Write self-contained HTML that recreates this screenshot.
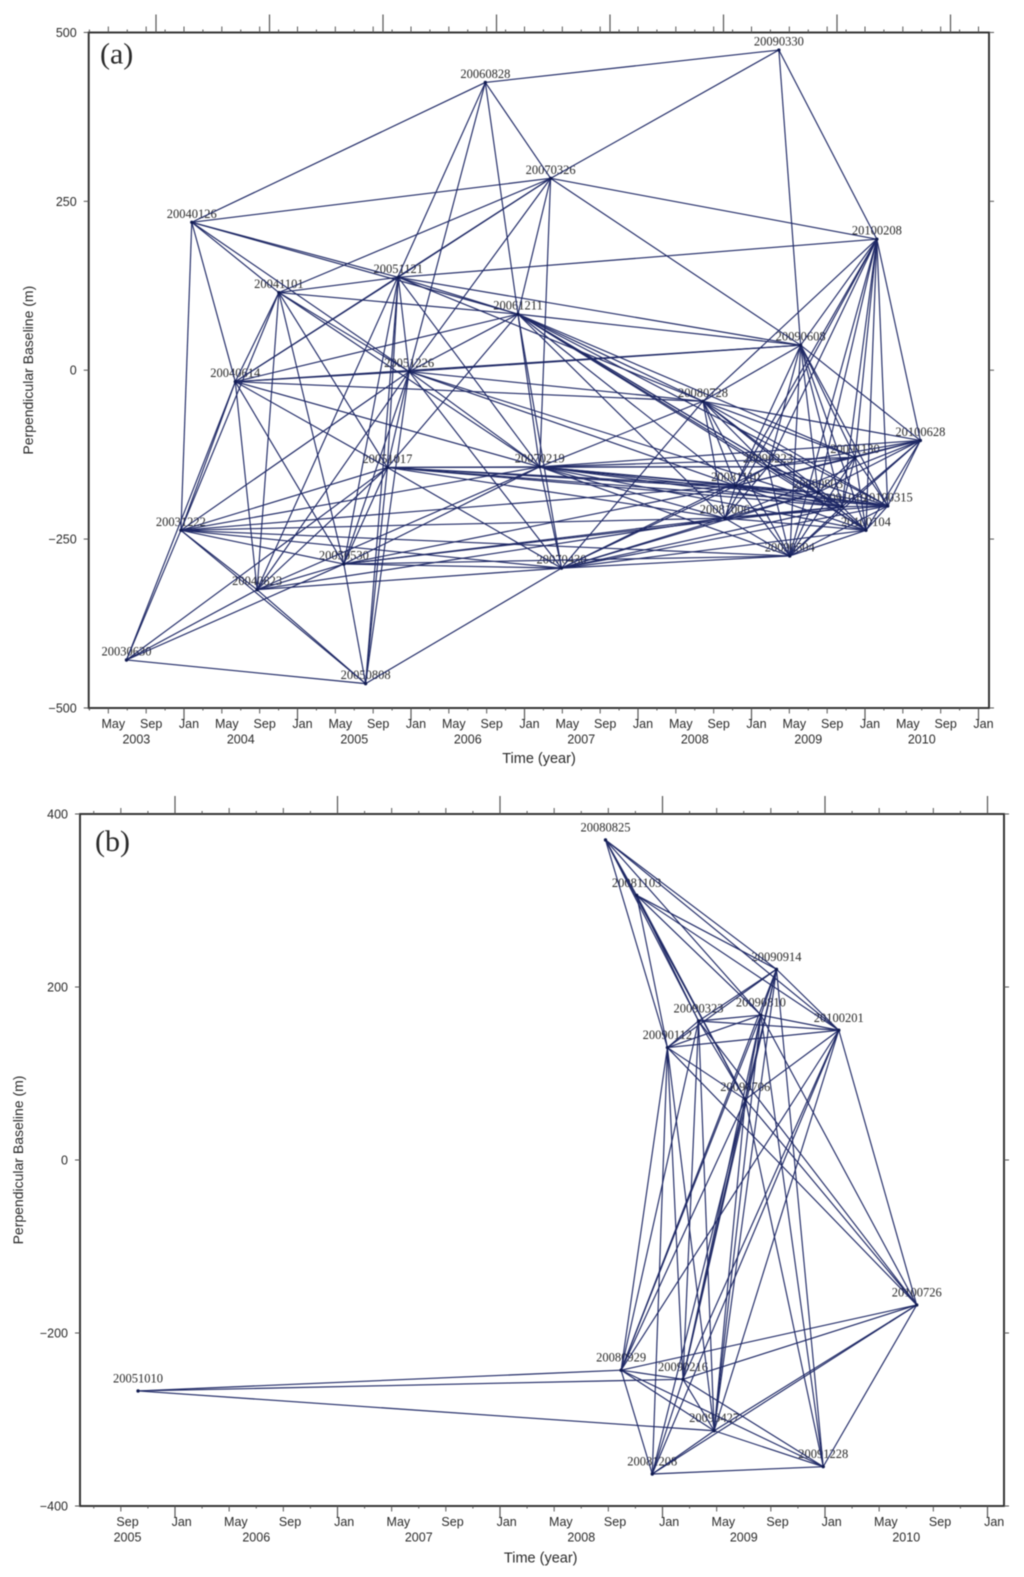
<!DOCTYPE html>
<html>
<head>
<meta charset="utf-8">
<title>Perpendicular baseline networks</title>
<style>
html,body{margin:0;padding:0;background:#fff;width:1024px;height:1577px;overflow:hidden}
svg{display:block;filter:blur(.4px)}
text{fill:#2a2a2a}
.sans{font-family:"Liberation Sans",sans-serif}
.serif{font-family:"Liberation Serif",serif}
</style>
</head>
<body>
<svg id="chart" xmlns="http://www.w3.org/2000/svg" width="1024" height="1577" viewBox="0 0 1024 1577"></svg>
<script>
// ---------- Panel (a) data ----------
const datesA = ["20030630","20031222","20040126","20040614","20040823","20041101","20050530","20050808","20051017","20051121","20051226","20060828","20061211","20070219","20070326","20070430","20080728","20081006","20081110","20090223","20090330","20090504","20090608","20090803","20091019","20091130","20100104","20100208","20100315","20100628"];
const baselinesA = [-429,-237,219,-17,-325,115,-287,-464,-144,137.5,-2,426,83,-143,284,-293,-46,-219,-171,-143,474,-275,37,-181,-202,-129,-237,194,-201,-104];
const edgesA = [
["20030630","20031222 20040614 20040823 20050530 20050808 20051017"],
["20031222","20040126 20040614 20041101 20040823 20050808 20050530 20051017 20051226 20070219 20081110 20081006 20090504 20070430"],
["20040126","20060828 20070326 20040614 20041101 20051226 20051121 20061211"],
["20040614","20041101 20070326 20061211 20051226 20090608 20051017 20050530 20040823 20070219 20080728 20051121"],
["20040823","20041101 20050808 20050530 20051017 20070430 20070219 20081006 20051226 20060828"],
["20041101","20051121 20070326 20061211 20051226 20070219 20050530 20051017"],
["20050530","20051017 20050808 20051226 20051121 20070430 20070219 20081006 20090504 20091019 20081110"],
["20050808","20051017 20051226 20051121 20070430"],
["20051017","20070219 20081110 20091019 20090803 20090223 20081006 20100315 20061211 20051226 20070430 20051121"],
["20051121","20070326 20061211 20090608 20080728 20100208 20051226 20070219"],
["20051226","20060828 20070326 20061211 20090608 20081110 20070219 20080728 20070430 20091019"],
["20060828","20090330 20070326 20061211"],
["20061211","20070326 20070219 20070430 20090608 20080728 20081110 20090803 20091019 20090223 20100315 20091130 20081006 20100104"],
["20070219","20070326 20080728 20081006 20081110 20090223 20090803 20091019 20091130 20100315 20100104 20100628 20090504 20070430"],
["20070326","20090330 20100208 20090608"],
["20070430","20080728 20081006 20081110 20090803 20091019 20100104 20090504 20100315 20090223"],
["20080728","20090223 20081110 20081006 20090504 20090803 20091019 20091130 20100104 20100315 20100628 20090608 20100208"],
["20081006","20090504 20081110 20090803 20091019 20100104 20100315 20090223 20100208 20100628"],
["20081110","20090223 20090504 20090803 20091019 20091130 20100104 20100315 20090608 20100208 20100628"],
["20090223","20090504 20090608 20090803 20091019 20091130 20100104 20100315 20100628 20100208"],
["20090330","20090608 20100208"],
["20090504","20090608 20090803 20091019 20091130 20100104 20100315 20100208 20100628"],
["20090608","20090803 20091019 20091130 20100104 20100315 20100628 20100208"],
["20090803","20091019 20091130 20100104 20100315 20100628 20100208"],
["20091019","20091130 20100104 20100315 20100628 20100208"],
["20091130","20100104 20100315 20100628 20100208"],
["20100104","20100208 20100315 20100628"],
["20100208","20100315 20100628"],
["20100315","20100628"]
];
// ---------- Panel (b) data ----------
const datesB = ["20051010","20080825","20080929","20081103","20081208","20090112","20090216","20090323","20090427","20090706","20090810","20090914","20091228","20100201","20100726"];
const baselinesB = [-267,370,-243,306,-363,130,-253.5,160.7,-313,70,167.6,220.5,-354.5,150,-167.6];
const edgesB = [
["20051010","20080929 20090216 20090427"],
["20080825","20081103 20090914 20100201 20090112 20090323 20090706 20090810"],
["20080929","20090216 20090427 20091228 20081208 20090112 20090323 20090706 20090810 20090914 20100201 20100726"],
["20081103","20090112 20090323 20090706 20090810 20090914 20100201"],
["20081208","20090427 20091228 20100726 20090112 20090706 20100201 20090216"],
["20090112","20090323 20090810 20100201 20090914 20090706 20090216 20090427 20100726"],
["20090216","20090427 20091228 20100726 20090323 20090706 20090810 20090914 20100201"],
["20090323","20100201 20090810 20090914 20090706 20090427 20100726"],
["20090427","20091228 20100726 20090706 20090810 20090914 20100201"],
["20090706","20100201 20100726 20091228 20090810 20090914"],
["20090810","20090914 20100201 20091228 20100726"],
["20090914","20100201 20091228"],
["20091228","20100726"],
["20100201","20100726"]
];
// ---------- Axis labels ----------
const monthLabels = ["Jan","May","Sep"];
const yTicksA = [500,250,0,-250,-500];
const yTicksB = [400,200,0,-200,-400];
const xTitle = "Time (year)";
const yTitle = "Perpendicular Baseline (m)";

const NS = "http://www.w3.org/2000/svg";
const svg = document.getElementById("chart");
const FRAME = "#2e2e2e";
const EDGE = "#1f2966";

function make(tag, attrs, parent, name, text) {
  const el = document.createElementNS(NS, tag);
  for (const k in attrs) el.setAttribute(k, attrs[k]);
  
  
  if (text !== undefined) el.textContent = text;
  parent.appendChild(el);
  return el;
}
function dateToYear(d) {
  const y = +d.slice(0, 4), m = +d.slice(4, 6) - 1, day = +d.slice(6, 8);
  return y + (Date.UTC(y, m, day) - Date.UTC(y, 0, 1)) / 86400000 / 365;
}
function line(g, x1, y1, x2, y2, w, col, name) {
  return make("line", {x1: x1, y1: y1, x2: x2, y2: y2, stroke: col, "stroke-width": w}, g, name);
}

function drawPanel(p) {
  const g = make("g", {}, svg, p.id);
  const X = v => p.jan0 + (v - p.year0) * p.pxYear;
  const Y = v => p.zeroY - v * p.pxUnit;

  // frame
  make("rect", {x: p.left, y: p.top, width: p.right - p.left, height: p.bottom - p.top, fill: "none", stroke: FRAME, "stroke-width": 1.9}, g, p.id + "-frame");

  // x ticks (every two months)
  const ticks = make("g", {}, g, p.id + "-x-axis");
  for (let yr = 2002; yr <= 2011; yr++) {
    for (let m = 0; m < 12; m += 2) {
      const x = X(yr + m / 12);
      if (x < p.left || x > p.right) continue;
      const isJan = m === 0, isLabel = m % 4 === 0;
      const down = isJan ? 12 : isLabel ? 5.5 : 2.5;
      line(ticks, x, p.bottom, x, p.bottom + down, isJan ? 1.2 : 1, "#555", "x-tick");
      if (isLabel) {
        make("text", {x: x + p.labelShift, y: p.bottom + 20, "text-anchor": "middle", "font-size": 12.5, class: "sans"}, ticks, "x-month-label", monthLabels[m / 4]);
      }
      if (!p.topShift) {
        const up = isJan ? 18 : isLabel ? 6 : 3;
        line(ticks, x, p.top, x, p.top - up, isJan ? 1.2 : 1, "#555", "x-top-tick");
      } else {
        const up = isLabel ? 6 : 3;
        line(ticks, x, p.top, x, p.top - up, 1, "#555", "x-top-tick");
      }
    }
    // year label centred on the visible part of the year
    const a = Math.max(X(yr), p.left), b = Math.min(X(yr + 1), p.right);
    if (b > a && X(yr + 1) < p.right + 1) {
      make("text", {x: (a + b) / 2, y: p.bottom + 35.5, "text-anchor": "middle", "font-size": 12.5, class: "sans"}, ticks, "x-year-label", String(yr));
    }
  }
  if (p.topShift) {
    for (let yr = 2002; yr <= 2011; yr++) {
      const x = X(yr) - p.topShift;
      if (x > p.left && x < p.right) line(ticks, x, p.top, x, p.top - 18, 1.2, "#555", "x-top-major-tick");
    }
  }

  // y ticks
  const yAxis = make("g", {}, g, p.id + "-y-axis");
  p.yTicks.forEach(v => {
    const y = Y(v);
    line(yAxis, p.left - 5, y, p.left, y, 1, "#555", "y-tick");
    line(yAxis, p.right, y, p.right + 5, y, 1, "#555", "y-tick-right");
    make("text", {x: p.left - 12, y: y + 4.5, "text-anchor": "end", "font-size": 12.5, class: "sans"}, yAxis, "y-tick-label", String(v).replace("-", "\u2212"));
  });

  // titles
  make("text", {x: p.titleX, y: p.bottom + p.titleDy, "text-anchor": "middle", "font-size": 14.5, class: "sans"}, g, p.id + "-x-axis-title", xTitle);
  make("text", {x: 0, y: 0, transform: "translate(" + p.yTitleX + "," + p.zeroY + ") rotate(-90)", "text-anchor": "middle", "font-size": 14, class: "sans"}, g, p.id + "-y-axis-title", yTitle);
  make("text", {x: p.tagX, y: p.top + p.tagDy, "font-size": 30, class: "serif"}, g, p.id + "-panel-label", p.tag);

  // node labels under the edges
  const pos = {};
  p.dates.forEach((d, i) => { pos[d] = [X(dateToYear(d)), Y(p.baselines[i])]; });
  const labels = make("g", {}, g, p.id + "-node-labels");
  p.dates.forEach(d => {
    make("text", {x: pos[d][0], y: pos[d][1] - p.labelDy, "text-anchor": "middle", "font-size": 12.5, class: "serif"}, labels, "node-label", d);
  });

  // edges
  const edges = make("g", {}, g, p.id + "-edges");
  p.edges.forEach(e => {
    e[1].split(" ").forEach(t => {
      if (!pos[e[0]] || !pos[t]) return;
      const ln = document.createElementNS(NS, "line");
      ln.setAttribute("x1", pos[e[0]][0]);
      ln.setAttribute("y1", pos[e[0]][1]);
      ln.setAttribute("x2", pos[t][0]);
      ln.setAttribute("y2", pos[t][1]);
      ln.setAttribute("stroke", EDGE);
      ln.setAttribute("stroke-width", "1.15");
      
      
      edges.appendChild(ln);
    });
  });

  // nodes
  const nodes = make("g", {}, g, p.id + "-nodes");
  p.dates.forEach(d => {
    make("circle", {cx: pos[d][0], cy: pos[d][1], r: 1.7, fill: "#101a50"}, nodes, "acquisition-point");
  });
}

drawPanel({id: "panel-a", tag: "(a)", tagX: 100, tagDy: 31, titleDy: 55, labelDy: 4.5, left: 88.7, right: 989, top: 32.5, bottom: 708,
  jan0: 184, year0: 2004, pxYear: 113.5, zeroY: 370.2, pxUnit: .6755, labelShift: 5, topShift: 28,
  titleX: 539, yTitleX: 33, dates: datesA, baselines: baselinesA, edges: edgesA, yTicks: yTicksA});
drawPanel({id: "panel-b", tag: "(b)", tagX: 95, tagDy: 37, titleDy: 56.5, labelDy: 8.5, left: 80, right: 1004, top: 814, bottom: 1506,
  jan0: 175, year0: 2006, pxYear: 162.5, zeroY: 1160, pxUnit: .865, labelShift: 6.7, topShift: 0,
  titleX: 540.7, yTitleX: 23, dates: datesB, baselines: baselinesB, edges: edgesB, yTicks: yTicksB});
</script>
</body>
</html>
